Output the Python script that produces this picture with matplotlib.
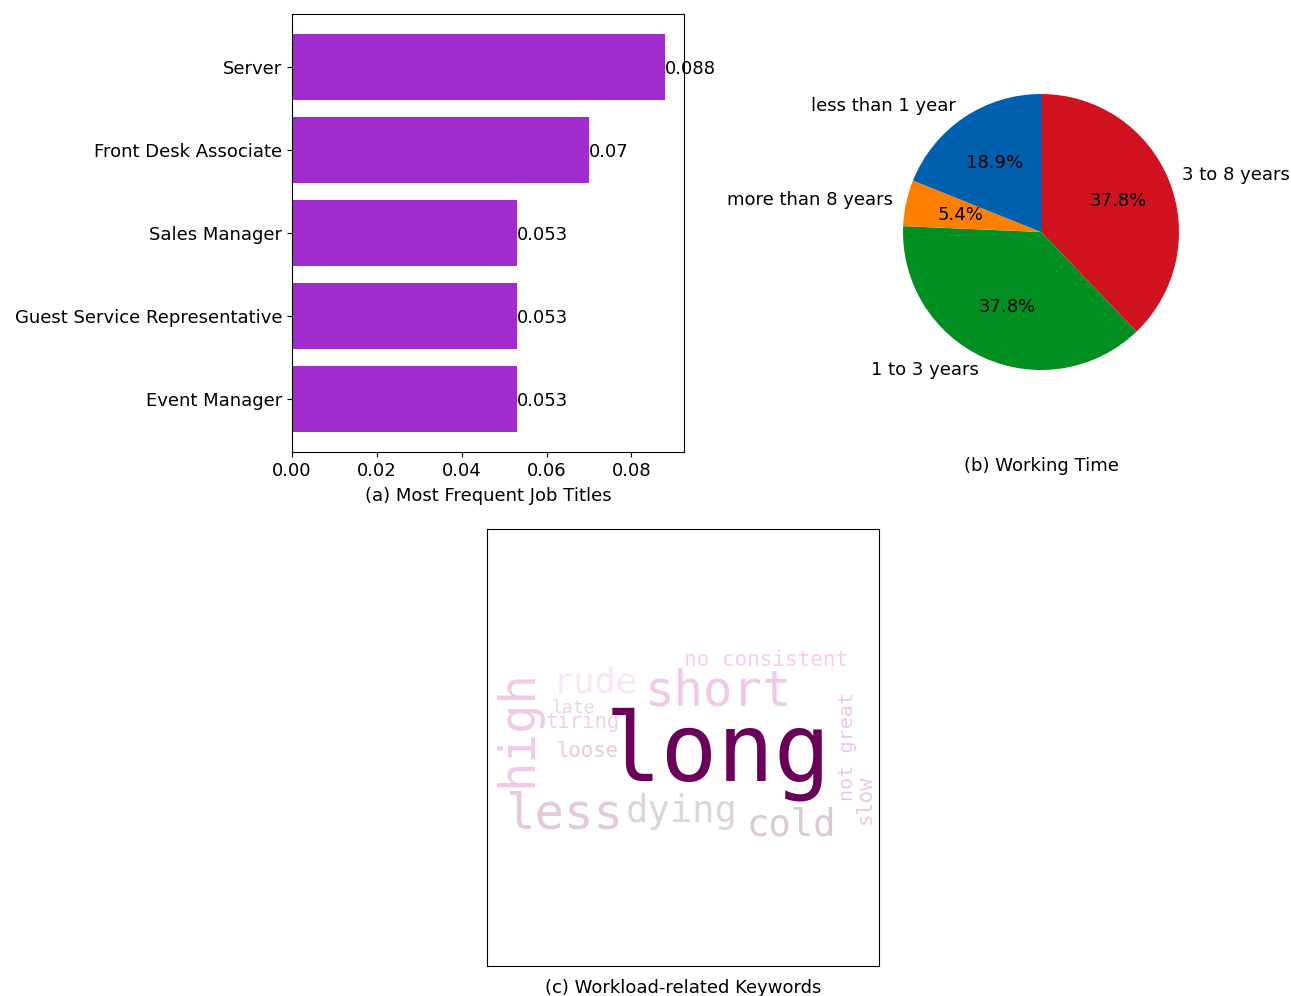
import matplotlib
matplotlib.use('Agg')
import matplotlib.pyplot as plt

# bar chart data
job_titles = ['Server', 'Front Desk Associate', 'Sales Manager',
              'Guest Service Representative', 'Event Manager']
job_freq = [0.088, 0.07, 0.053, 0.053, 0.053]

# pie chart data
time_labels = ['3 to 8 years', '1 to 3 years', 'more than 8 years', 'less than 1 year']
time_counts = [14, 14, 2, 7]
time_colors = ['#d11220', '#008f20', '#ff8000', '#0060ad']

# keyword cloud words
keywords = ['long', 'short', 'rude', 'no consistent', 'high', 'late', 'tiring',
            'loose', 'less', 'dying', 'cold', 'not great', 'slow']

# layout of the cloud on a 400x200 canvas: x, baseline y, size (px), rotation, colour
cloud_layout = {
    'long':          (120.5, 133.7, 96, 0, '#6b005a'),
    'short':         (161.2, 57.1, 50, 0, '#efc9e7'),
    'rude':          (67.3, 43.9, 36, 0, '#fbe6f7'),
    'no consistent': (201.0, 17.3, 21.4, 0, '#f9cbee'),
    'high':          (45.5, 140.5, 50, 90, '#f0cbe6'),
    'late':          (66.3, 64.3, 18.5, 0, '#ead4e6'),
    'tiring':        (60.2, 79.6, 21, 0, '#f2d0ea'),
    'loose':         (70.4, 110.2, 21, 0, '#e9c9e1'),
    'less':          (18.4, 182.7, 50, 0, '#e4c9dc'),
    'dying':         (141.8, 176.5, 38, 0, '#dcd4db'),
    'cold':          (265.3, 189.8, 38, 0, '#dcc9d7'),
    'not great':     (373.5, 155.1, 20.5, 90, '#efc8e5'),
    'slow':          (391.8, 177.6, 21, 90, '#efc7e3'),
}

W, H = 1291, 996
fig = plt.figure(figsize=(W / 100, H / 100), dpi=100)
plt.rcParams['font.size'] = 13.0


def px_axes(left, top, right, bottom):
    return fig.add_axes([left / W, 1 - bottom / H, (right - left) / W, (bottom - top) / H])


# (a) horizontal bars
ax1 = px_axes(292, 14, 684, 452)
ypos = range(len(job_titles))
ax1.barh(ypos, job_freq, color='#a02bcf')
for i, v in enumerate(job_freq):
    ax1.text(v, i, str(v), va='center_baseline', ha='left')
ax1.set_yticks(list(ypos))
ax1.set_yticklabels(job_titles)
ax1.invert_yaxis()
ax1.set_xlabel('(a) Most Frequent Job Titles', labelpad=5)

# (b) pie chart
r = 138
ax2 = px_axes(1041 - 1.25 * r, 232 - 1.25 * r, 1041 + 1.25 * r, 232 + 1.25 * r)
ax2.pie(time_counts, labels=time_labels, colors=time_colors, autopct='%1.1f%%',
        startangle=90, counterclock=False)
ax2.set_xlabel('(b) Working Time', labelpad=38)

# (c) keyword cloud
ax3 = px_axes(487, 529, 879, 966)
for w in keywords:
    x, y, size, rot, col = cloud_layout[w]
    ax3.text(x, y, w, fontsize=size * 0.98 * 0.72, rotation=rot, color=col,
             family='DejaVu Sans Mono', ha='left', va='baseline',
             rotation_mode='anchor')
ax3.set_xlim(0, 400)
ax3.set_ylim(100 + 437 / 0.98 / 2, 100 - 437 / 0.98 / 2)
ax3.set_xticks([])
ax3.set_yticks([])
ax3.set_xlabel('(c) Workload-related Keywords', labelpad=9)

fig.savefig('out.png', dpi=100)
